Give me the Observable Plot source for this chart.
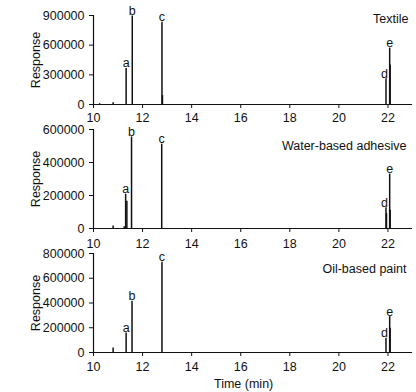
<!DOCTYPE html>
<html>
<head>
<meta charset="utf-8">
<script src="https://cdn.jsdelivr.net/npm/d3@7"></script>
<script src="https://cdn.jsdelivr.net/npm/@observablehq/plot@0.6"></script>
<style>
  body { margin: 0; background: #fff; }
  #chart { width: 416px; font-family: "Liberation Sans", Arial, sans-serif; color: #111; }
  #chart svg { display: block; }
  #xlabel { font-size: 12.5px; line-height: 14px; padding-left: 214px; margin-top: 1px; }
</style>
</head>
<body>
<div id="chart"></div>
<script>
// Retention-time axis (min)
const timeTicks = [10, 12, 14, 16, 18, 20, 22];

// Textile: peak retention times, responses and peak names
const textileTimes = [10.25, 10.8, 11.33, 11.58, 12.79, 12.81, 21.92, 22.07, 22.09];
const textileResponses = [8000, 18000, 365000, 895000, 832000, 90000, 260000, 570000, 400000];
const textileNames = ["", "", "a", "b", "c", "", "d", "e", ""];
const textileTicks = [0, 300000, 600000, 900000];

// Water-based adhesive
const adhesiveTimes = [10.8, 11.25, 11.31, 11.36, 11.55, 12.78, 21.92, 21.94, 22.07, 22.09];
const adhesiveResponses = [15000, 10000, 208000, 165000, 555000, 511000, 126000, 90000, 330000, 110000];
const adhesiveNames = ["", "", "a", "", "b", "c", "d", "", "e", ""];
const adhesiveTicks = [0, 200000, 400000, 600000];

// Oil-based paint
const paintTimes = [10.8, 11.33, 11.57, 12.79, 21.92, 22.07, 22.09];
const paintResponses = [37000, 158000, 414000, 730000, 116000, 290000, 196000];
const paintNames = ["", "a", "b", "c", "d", "e", ""];
const paintTicks = [0, 200000, 400000, 600000, 800000];

const font = `"Liberation Sans", Arial, sans-serif`;

function chromatogram({title, times, responses, names, yTicks, height, marginTop, marginBottom, tickPadding, titleDx, titleDy}) {
  const peaks = times.map((t, i) => ({time: t, response: responses[i], name: names[i]}));
  const named = peaks.filter(p => p.name && p.name !== "d");
  const dPeak = peaks.filter(p => p.name === "d");
  return Plot.plot({
    width: 416,
    height,
    marginLeft: 93,
    marginRight: 4,
    marginTop,
    marginBottom,
    style: {fontFamily: font, fontSize: "12.5px", color: "#111", background: "#fff", overflow: "visible"},
    x: {domain: [10, 23], ticks: timeTicks, tickSize: 4, tickPadding, label: null},
    y: {
      domain: [0, yTicks[yTicks.length - 1]],
      ticks: yTicks,
      tickFormat: d3.format("d"),
      tickSize: 4,
      tickPadding: 5,
      label: "Response",
      labelAnchor: "center",
      labelArrow: "none",
      labelOffset: 62
    },
    marks: [
      Plot.ruleY([0], {stroke: "#111", strokeWidth: 1.2}),
      Plot.ruleX([10], {stroke: "#111", strokeWidth: 1.2}),
      Plot.ruleX(peaks, {x: "time", y: "response", stroke: "#111", strokeWidth: 1.5}),
      Plot.text(named, {x: "time", y: "response", text: "name", lineAnchor: "bottom", dy: -1, fontSize: 12.5}),
      Plot.text(dPeak, {x: "time", y: "response", text: "name", textAnchor: "end", dx: 2, lineAnchor: "bottom", dy: -1, fontSize: 12.5}),
      Plot.text([title], {frameAnchor: "top-right", lineAnchor: "top", textAnchor: "end", dx: titleDx, dy: titleDy, fontSize: 12.5})
    ]
  });
}

const chart = document.getElementById("chart");
chart.append(chromatogram({
  title: "Textile", times: textileTimes, responses: textileResponses, names: textileNames,
  yTicks: textileTicks, height: 122, marginTop: 15, marginBottom: 18, tickPadding: 5, titleDx: -4, titleDy: -1
}));
chart.append(chromatogram({
  title: "Water-based adhesive", times: adhesiveTimes, responses: adhesiveResponses, names: adhesiveNames,
  yTicks: adhesiveTicks, height: 124, marginTop: 7, marginBottom: 18, tickPadding: 7, titleDx: -6, titleDy: 12
}));
chart.append(chromatogram({
  title: "Oil-based paint", times: paintTimes, responses: paintResponses, names: paintNames,
  yTicks: paintTicks, height: 130, marginTop: 7, marginBottom: 24, tickPadding: 6, titleDx: -6, titleDy: 11
}));
const xlabel = document.createElement("div");
xlabel.id = "xlabel";
xlabel.textContent = "Time (min)";
chart.append(xlabel);
</script>
</body>
</html>
